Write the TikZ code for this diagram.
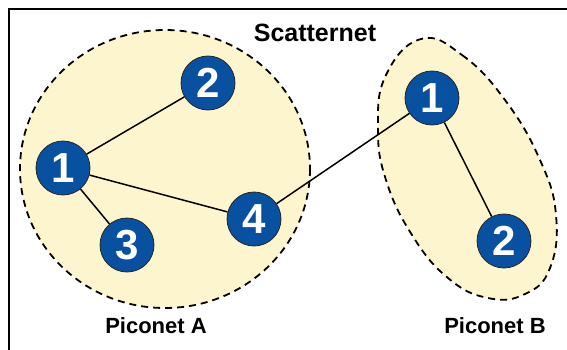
\documentclass[tikz,border=0pt]{standalone}
\usepackage{fontspec}
\setmainfont{Liberation Sans}
\definecolor{nodeblue}{RGB}{8,80,160}
\definecolor{picofill}{RGB}{253,245,206}
\begin{document}
\begin{tikzpicture}[x=1pt,y=-1pt,
  dev/.style={circle,fill=nodeblue,draw=black!85,line width=0.8pt,minimum size=54pt,inner sep=0pt,
    text=white,font=\fontsize{42}{42}\selectfont\bfseries},
  link/.style={line width=1.5pt,black},
  pico/.style={fill=picofill,draw=black,line width=1.8pt,dash pattern=on 7pt off 5pt},
  lbl/.style={font=\fontsize{22}{22}\selectfont\bfseries,inner sep=0pt}]
\useasboundingbox (0,0) rectangle (567,350);
\draw[line width=2pt] (9,380) -- (9,9) -- (600,9);
% piconets
\draw[pico] (165,169) ellipse [x radius=145, y radius=139];
\draw[pico] plot[smooth cycle,tension=0.75] coordinates {
  (421,39) (462,55) (505,100) (540,160) (556,215) (550,268) (525,294) (488,298)
  (448,278) (412,235) (386,180) (378,128) (386,75)};
% devices
\node[dev] (a1) at (63,168) {1};
\node[dev] (a2) at (208,83) {2};
\node[dev] (a3) at (127,245) {3};
\node[dev] (a4) at (254,219) {4};
\node[dev] (b1) at (432,98) {1};
\node[dev] (b2) at (504,241) {2};
\draw[link] (a1) -- (a2);
\draw[link] (a1) -- (a3);
\draw[link] (a1) -- (a4);
\draw[link] (a4) -- (b1);
\draw[link] (b1) -- (b2);
% labels
\node[lbl,font=\fontsize{25}{25}\selectfont\bfseries] (sc) at (315,33) {Scatternet};
\node[lbl] (pa) at (156,326) {Piconet A};
\node[lbl] (pb) at (495,326) {Piconet B};
\end{tikzpicture}
\end{document}
